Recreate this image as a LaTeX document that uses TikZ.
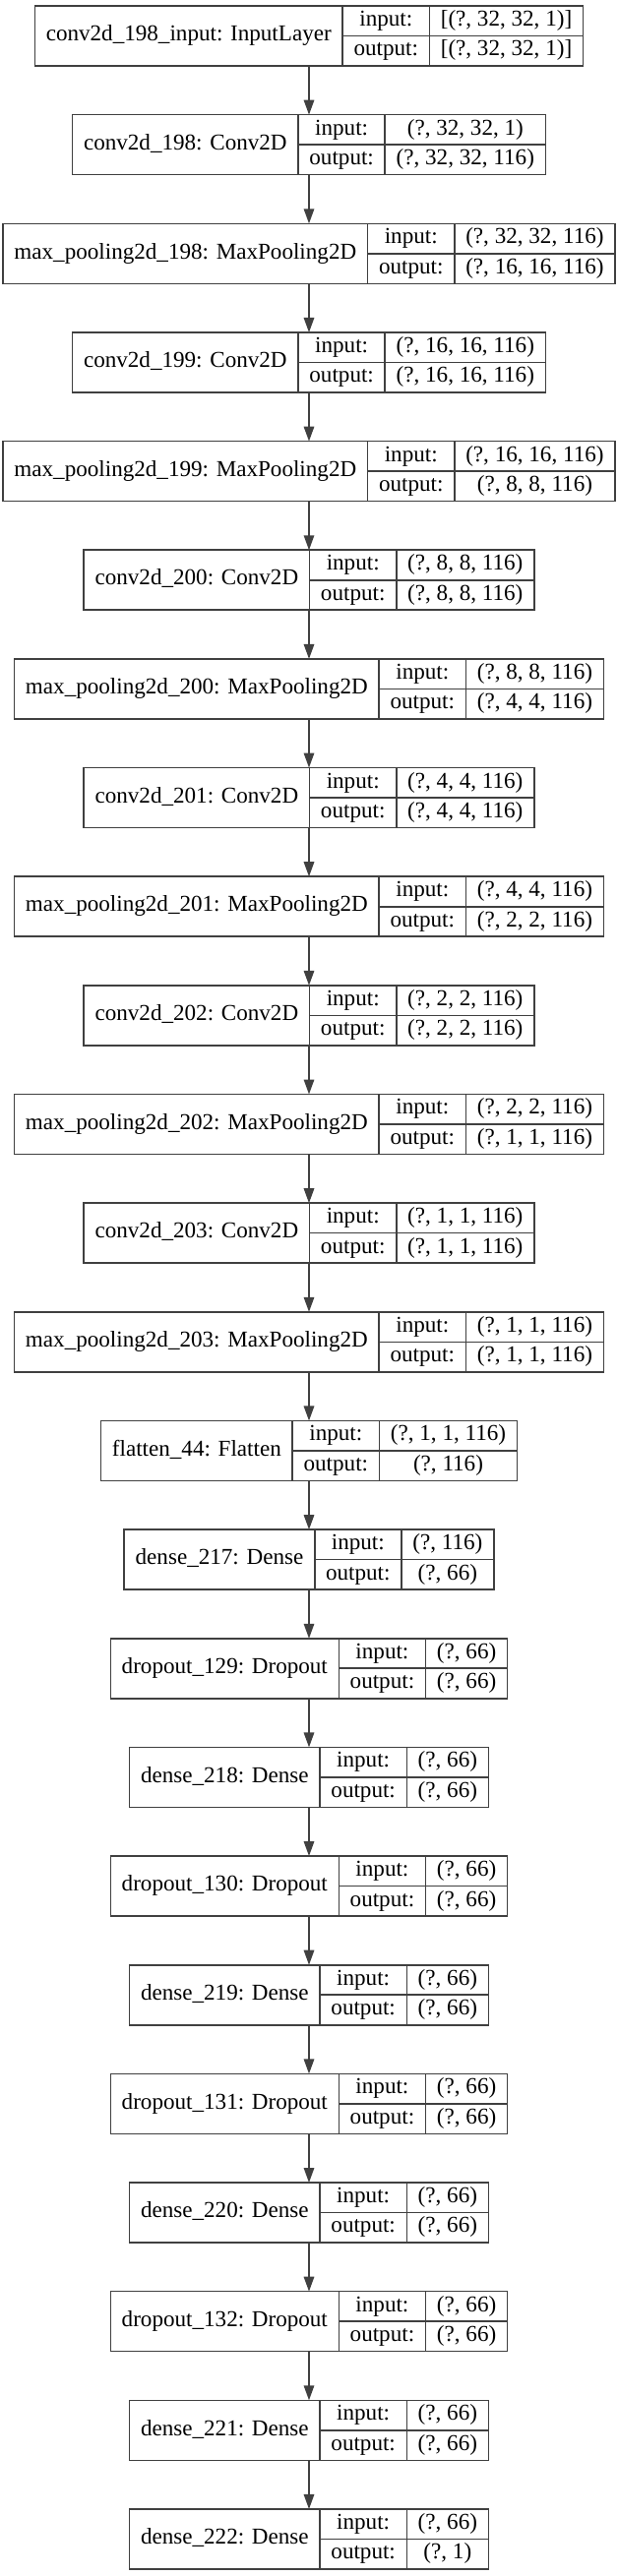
\documentclass[tikz,border=0pt]{standalone}
\usepackage{fontspec}
\setmainfont{Liberation Serif}
\usetikzlibrary{arrows.meta}
\definecolor{ln}{HTML}{404040}
\newcommand\lfont{\fontsize{23.1pt}{27pt}\selectfont}
\newlength\wa \newlength\wb \newlength\wc \newlength\tmpw
\newcommand\padw{22.8pt}
\tikzset{
  boxline/.style={draw=ln, line width=1.6pt},
  layerbox/.style={boxline, inner sep=0pt, outer sep=0pt, minimum height=61pt},
  txt/.style={inner sep=0pt, outer sep=0pt, anchor=base, font=\lfont},
  arr/.style={draw=ln, line width=1.6pt, -{Triangle[length=15pt,width=10.5pt]}}
}
% measuring pass (outside the picture)
\newcommand\kmeasure[5]{%
  \settowidth\wa{\lfont #3}\addtolength\wa{\padw}%
  \settowidth\wb{\lfont output:}\addtolength\wb{\padw}%
  \settowidth\wc{\lfont #4}\settowidth\tmpw{\lfont #5}%
  \ifdim\tmpw>\wc\relax\wc=\tmpw\fi\addtolength\wc{\padw}%
  \expandafter\xdef\csname KWa#1\endcsname{\strip@pt\wa}%
  \expandafter\xdef\csname KWb#1\endcsname{\strip@pt\wb}%
  \expandafter\xdef\csname KWc#1\endcsname{\strip@pt\wc}%
}
% drawing pass
\newcommand\klayer[5]{%
  \pgfmathsetmacro\wA{\csname KWa#1\endcsname}%
  \pgfmathsetmacro\wB{\csname KWb#1\endcsname}%
  \pgfmathsetmacro\wC{\csname KWc#1\endcsname}%
  \pgfmathsetmacro\kt{6+#2*110.65}%
  \pgfmathsetmacro\kb{\kt+61}%
  \pgfmathsetmacro\km{\kt+30.5}%
  \pgfmathsetmacro\kw{\wA+\wB+\wC}%
  \pgfmathsetmacro\kx{314-\kw/2}%
  \pgfmathsetmacro\ka{\kx+\wA}%
  \pgfmathsetmacro\kbb{\ka+\wB}%
  \pgfmathsetmacro\kr{\kbb+\wC}%
  \pgfmathsetmacro\ya{\km+5.2}%
  \pgfmathsetmacro\yi{\kt+15.25+5.2}%
  \pgfmathsetmacro\yo{\kt+45.75+5.2}%
  \pgfmathsetmacro\xt{(\kx+\ka)/2}%
  \pgfmathsetmacro\xl{(\ka+\kbb)/2}%
  \pgfmathsetmacro\xs{(\kbb+\kr)/2}%
  \node[layerbox, minimum width=\kw pt] (#1) at (314pt,-\km pt) {};
  \draw[boxline] (\ka pt,-\kt pt) -- (\ka pt,-\kb pt);
  \draw[boxline] (\kbb pt,-\kt pt) -- (\kbb pt,-\kb pt);
  \draw[boxline] (\ka pt,-\km pt) -- (\kr pt,-\km pt);
  \node[txt] (#1-t) at (\xt pt,-\ya pt) {#3};
  \node[txt] (#1-i) at (\xl pt,-\yi pt) {input:};
  \node[txt] (#1-o) at (\xl pt,-\yo pt) {output:};
  \node[txt] (#1-si) at (\xs pt,-\yi pt) {#4};
  \node[txt] (#1-so) at (\xs pt,-\yo pt) {#5};
}
\makeatletter
\let\kstrip\strip@pt
\makeatother
\renewcommand\kmeasure[5]{%
  \settowidth\wa{\lfont #3}\addtolength\wa{\padw}%
  \settowidth\wb{\lfont output:}\addtolength\wb{\padw}%
  \settowidth\wc{\lfont #4}\settowidth\tmpw{\lfont #5}%
  \ifdim\tmpw>\wc\relax\wc=\tmpw\fi\addtolength\wc{\padw}%
  \expandafter\xdef\csname KWa#1\endcsname{\kstrip\wa}%
  \expandafter\xdef\csname KWb#1\endcsname{\kstrip\wb}%
  \expandafter\xdef\csname KWc#1\endcsname{\kstrip\wc}%
}
\newcommand\alllayers{%
\L{l0}{0}{conv2d\_198\_input: InputLayer}{[(?, 32, 32, 1)]}{[(?, 32, 32, 1)]}%
\L{l1}{1}{conv2d\_198: Conv2D}{(?, 32, 32, 1)}{(?, 32, 32, 116)}%
\L{l2}{2}{max\_pooling2d\_198: MaxPooling2D}{(?, 32, 32, 116)}{(?, 16, 16, 116)}%
\L{l3}{3}{conv2d\_199: Conv2D}{(?, 16, 16, 116)}{(?, 16, 16, 116)}%
\L{l4}{4}{max\_pooling2d\_199: MaxPooling2D}{(?, 16, 16, 116)}{(?, 8, 8, 116)}%
\L{l5}{5}{conv2d\_200: Conv2D}{(?, 8, 8, 116)}{(?, 8, 8, 116)}%
\L{l6}{6}{max\_pooling2d\_200: MaxPooling2D}{(?, 8, 8, 116)}{(?, 4, 4, 116)}%
\L{l7}{7}{conv2d\_201: Conv2D}{(?, 4, 4, 116)}{(?, 4, 4, 116)}%
\L{l8}{8}{max\_pooling2d\_201: MaxPooling2D}{(?, 4, 4, 116)}{(?, 2, 2, 116)}%
\L{l9}{9}{conv2d\_202: Conv2D}{(?, 2, 2, 116)}{(?, 2, 2, 116)}%
\L{l10}{10}{max\_pooling2d\_202: MaxPooling2D}{(?, 2, 2, 116)}{(?, 1, 1, 116)}%
\L{l11}{11}{conv2d\_203: Conv2D}{(?, 1, 1, 116)}{(?, 1, 1, 116)}%
\L{l12}{12}{max\_pooling2d\_203: MaxPooling2D}{(?, 1, 1, 116)}{(?, 1, 1, 116)}%
\L{l13}{13}{flatten\_44: Flatten}{(?, 1, 1, 116)}{(?, 116)}%
\L{l14}{14}{dense\_217: Dense}{(?, 116)}{(?, 66)}%
\L{l15}{15}{dropout\_129: Dropout}{(?, 66)}{(?, 66)}%
\L{l16}{16}{dense\_218: Dense}{(?, 66)}{(?, 66)}%
\L{l17}{17}{dropout\_130: Dropout}{(?, 66)}{(?, 66)}%
\L{l18}{18}{dense\_219: Dense}{(?, 66)}{(?, 66)}%
\L{l19}{19}{dropout\_131: Dropout}{(?, 66)}{(?, 66)}%
\L{l20}{20}{dense\_220: Dense}{(?, 66)}{(?, 66)}%
\L{l21}{21}{dropout\_132: Dropout}{(?, 66)}{(?, 66)}%
\L{l22}{22}{dense\_221: Dense}{(?, 66)}{(?, 66)}%
\L{l23}{23}{dense\_222: Dense}{(?, 66)}{(?, 1)}%
}
\begin{document}
\let\L\kmeasure\alllayers
\begin{tikzpicture}
\useasboundingbox[fill=white] (0pt,0pt) rectangle (628pt,-2619pt);
\let\L\klayer
\alllayers
\foreach \i [evaluate=\i as \j using int(\i+1)] in {0,...,22} {
  \draw[arr] (l\i.south) -- (l\j.north);
}
\end{tikzpicture}
\end{document}
